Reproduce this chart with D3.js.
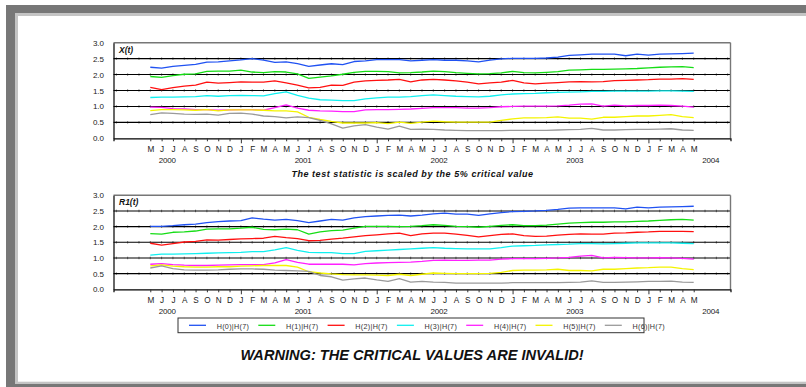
<!DOCTYPE html>
<html><head><meta charset="utf-8">
<script src="https://cdn.jsdelivr.net/npm/d3@7"></script>
<style>
html,body{margin:0;padding:0;background:#fff;}
svg{display:block;font-family:"Liberation Sans",Arial,sans-serif;}
</style></head>
<body>
<svg id="chart" width="806" height="387"></svg>
<script>
// ---------------- DATA ----------------
const monthLabels = ["M","J","J","A","S","O","N","D","J","F","M","A",
                     "M","J","J","A","S","O","N","D","J","F","M","A",
                     "M","J","J","A","S","O","N","D","J","F","M","A",
                     "M","J","J","A","S","O","N","D","J","F","M","A","M"];
const yearLabels = ["2000","2001","2002","2003","2004"];
const yTicks = [0,0.5,1,1.5,2,2.5,3];
const gridValues = [0.5,1,1.5,2,2.5];
const seriesNames = ["H(0)|H(7)","H(1)|H(7)","H(2)|H(7)","H(3)|H(7)","H(4)|H(7)","H(5)|H(7)","H(6)|H(7)"];
const seriesColors = ["#2052f2","#16dd16","#ff1010","#10f0f0","#ff20ff","#f4f400","#9a9a9a"];

const X0 = [2.23,2.20,2.26,2.29,2.32,2.39,2.40,2.43,2.46,2.50,2.45,2.38,2.40,2.34,2.26,2.30,2.34,2.31,2.41,2.43,2.47,2.47,2.47,2.43,
            2.45,2.47,2.45,2.45,2.43,2.40,2.45,2.49,2.51,2.51,2.51,2.52,2.55,2.60,2.62,2.64,2.64,2.64,2.59,2.64,2.61,2.64,2.65,2.66,2.67];
const X1 = [1.94,1.91,1.97,2.01,2.02,2.10,2.11,2.11,2.14,2.08,2.06,2.09,2.08,2.02,1.88,1.92,1.96,2.01,2.07,2.10,2.10,2.09,2.05,2.06,
            2.08,2.11,2.09,2.06,2.04,2.02,2.03,2.05,2.10,2.06,2.05,2.07,2.09,2.14,2.15,2.16,2.16,2.17,2.18,2.19,2.21,2.23,2.24,2.25,2.22];
const X2 = [1.60,1.53,1.59,1.64,1.67,1.76,1.73,1.75,1.77,1.76,1.76,1.80,1.74,1.67,1.58,1.60,1.67,1.66,1.76,1.80,1.82,1.83,1.85,1.77,
            1.83,1.85,1.83,1.80,1.76,1.71,1.74,1.76,1.82,1.74,1.71,1.73,1.75,1.77,1.78,1.77,1.78,1.81,1.82,1.83,1.84,1.86,1.86,1.87,1.85];
const X3 = [1.28,1.29,1.29,1.30,1.31,1.34,1.32,1.34,1.35,1.34,1.33,1.40,1.46,1.35,1.26,1.21,1.20,1.18,1.18,1.24,1.27,1.29,1.29,1.31,
            1.34,1.36,1.34,1.32,1.31,1.30,1.32,1.36,1.39,1.40,1.41,1.43,1.44,1.45,1.46,1.47,1.47,1.48,1.48,1.48,1.48,1.49,1.49,1.48,1.47];
const X4 = [0.98,0.97,0.93,0.92,0.90,0.90,0.88,0.89,0.90,0.90,0.88,0.96,1.05,0.95,0.88,0.86,0.85,0.84,0.84,0.89,0.90,0.90,0.91,0.92,
            0.94,0.96,0.96,0.96,0.95,0.95,0.96,0.99,1.00,1.01,1.01,1.01,1.02,1.04,1.07,1.08,1.01,1.04,1.02,1.03,1.03,1.04,1.03,1.01,0.98];
const X5 = [0.87,0.90,0.90,0.89,0.88,0.90,0.86,0.89,0.89,0.89,0.88,0.86,0.86,0.83,0.66,0.59,0.53,0.48,0.48,0.48,0.49,0.46,0.51,0.47,
            0.51,0.54,0.52,0.51,0.51,0.51,0.51,0.56,0.61,0.64,0.64,0.65,0.67,0.63,0.63,0.60,0.66,0.66,0.68,0.70,0.70,0.72,0.74,0.68,0.65];
const X6 = [0.74,0.80,0.78,0.76,0.75,0.76,0.73,0.78,0.79,0.76,0.70,0.68,0.64,0.67,0.65,0.56,0.45,0.32,0.39,0.43,0.35,0.29,0.38,0.28,
            0.29,0.28,0.26,0.25,0.24,0.24,0.24,0.24,0.25,0.25,0.25,0.25,0.26,0.27,0.28,0.31,0.26,0.26,0.27,0.28,0.28,0.29,0.30,0.26,0.25];

const R0 = [2.01,2.01,2.03,2.06,2.08,2.13,2.16,2.18,2.19,2.28,2.24,2.21,2.23,2.19,2.13,2.18,2.23,2.21,2.28,2.32,2.34,2.36,2.37,2.34,
            2.37,2.41,2.43,2.40,2.40,2.36,2.41,2.45,2.48,2.49,2.50,2.52,2.55,2.59,2.60,2.60,2.60,2.60,2.57,2.62,2.60,2.62,2.63,2.64,2.65];
const R1 = [1.78,1.76,1.82,1.83,1.86,1.92,1.93,1.93,1.95,1.98,1.91,1.90,1.92,1.90,1.76,1.83,1.87,1.89,1.95,2.01,2.01,2.01,2.00,2.01,
            2.03,2.06,2.04,2.01,2.00,1.98,2.01,2.04,2.06,2.03,2.03,2.05,2.08,2.11,2.13,2.14,2.14,2.15,2.15,2.17,2.18,2.20,2.22,2.23,2.21];
const R2 = [1.47,1.41,1.46,1.51,1.53,1.58,1.57,1.59,1.61,1.62,1.63,1.69,1.65,1.62,1.55,1.56,1.60,1.63,1.67,1.71,1.74,1.77,1.79,1.71,
            1.77,1.79,1.79,1.76,1.72,1.67,1.71,1.75,1.77,1.71,1.69,1.70,1.73,1.75,1.77,1.76,1.76,1.79,1.80,1.82,1.83,1.85,1.85,1.85,1.84];
const R3 = [1.09,1.12,1.12,1.13,1.14,1.15,1.16,1.17,1.18,1.20,1.20,1.26,1.33,1.24,1.18,1.17,1.17,1.14,1.14,1.21,1.23,1.25,1.27,1.29,
            1.31,1.33,1.31,1.30,1.29,1.29,1.29,1.33,1.38,1.39,1.40,1.42,1.43,1.44,1.46,1.46,1.45,1.46,1.47,1.48,1.48,1.48,1.48,1.47,1.46];
const R4 = [0.80,0.82,0.79,0.77,0.76,0.76,0.77,0.78,0.79,0.79,0.79,0.84,0.95,0.86,0.80,0.80,0.80,0.80,0.78,0.82,0.84,0.85,0.86,0.87,
            0.89,0.92,0.93,0.92,0.92,0.93,0.93,0.96,0.98,0.98,0.98,0.99,1.00,1.02,1.06,1.08,1.00,1.02,1.01,1.00,1.00,1.01,1.00,0.99,0.96];
const R5 = [0.75,0.78,0.74,0.72,0.71,0.71,0.72,0.72,0.74,0.75,0.76,0.76,0.76,0.71,0.56,0.52,0.49,0.47,0.46,0.46,0.45,0.44,0.48,0.44,
            0.48,0.52,0.51,0.50,0.50,0.50,0.51,0.54,0.60,0.61,0.61,0.62,0.64,0.60,0.60,0.59,0.64,0.64,0.66,0.68,0.69,0.71,0.71,0.66,0.63];
const R6 = [0.68,0.75,0.66,0.62,0.61,0.61,0.62,0.64,0.65,0.65,0.64,0.61,0.60,0.59,0.57,0.44,0.40,0.29,0.33,0.36,0.30,0.25,0.34,0.23,
            0.25,0.23,0.22,0.20,0.20,0.20,0.20,0.20,0.21,0.21,0.21,0.21,0.21,0.22,0.23,0.27,0.22,0.22,0.23,0.24,0.25,0.25,0.26,0.23,0.22];

const panelTitles = ["X(t)","R1(t)"];
const captionText = "The test statistic is scaled by the 5% critical value";
const warningText = "WARNING: THE CRITICAL VALUES ARE INVALID!";

// ---------------- LAYOUT ----------------
const svg = d3.select("#chart");
const W = 806, H = 387;
const FONT = '"Liberation Sans",Arial,sans-serif';

// outer frame (left/top/bottom bands)
svg.append("rect").attr("x",0).attr("y",0).attr("width",W).attr("height",H).attr("fill","#fff");
svg.append("rect").attr("x",6).attr("y",5).attr("width",W-6).attr("height",H-5).attr("fill","#777");
svg.append("rect").attr("x",15).attr("y",13).attr("width",W-15).attr("height",371).attr("fill","#c4c4c4");
svg.append("rect").attr("x",18).attr("y",16).attr("width",W-18).attr("height",365.7).attr("fill","#fff");

const left = 113.5, right = 730.5;
const x = d3.scaleLinear().domain([-3.25, 51.25]).range([left, right]);

const panels = [
  {top:42.7, bottom:138.3, data:[X0,X1,X2,X3,X4,X5,X6], title:panelTitles[0]},
  {top:195.3, bottom:289.3, data:[R0,R1,R2,R3,R4,R5,R6], title:panelTitles[1]}
];

const gridTickIdx = d3.range(-3, 52);

panels.forEach((p, pi) => {
  const y = d3.scaleLinear().domain([0,3]).range([p.bottom, p.top]);
  const g = svg.append("g");

  // gridlines with small month tick marks
  gridValues.forEach(v => {
    const gy = y(v);
    g.append("g").selectAll("line").data(gridTickIdx).join("line")
      .attr("x1", d => x(d)).attr("x2", d => x(d))
      .attr("y1", gy - 1.3).attr("y2", gy + 1.3)
      .attr("stroke", "#777").attr("stroke-width", 0.9);
    g.append("line").attr("x1", left).attr("x2", right)
      .attr("y1", gy).attr("y2", gy)
      .attr("stroke", "#000").attr("stroke-width", 1.1);
  });

  // series lines
  const line = d3.line().x((d,i) => x(i)).y(d => y(d));
  p.data.forEach((s, si) => {
    g.append("path").datum(s).attr("d", line)
      .attr("fill","none").attr("stroke", seriesColors[si])
      .attr("stroke-width", 1.3).attr("stroke-linejoin","round");
  });

  // frame
  g.append("line").attr("x1",left).attr("x2",right).attr("y1",p.top).attr("y2",p.top).attr("stroke","#777").attr("stroke-width",1.4);
  g.append("line").attr("x1",right).attr("x2",right).attr("y1",p.top).attr("y2",p.bottom).attr("stroke","#777").attr("stroke-width",1.4);

  // y axis
  const ya = g.append("g").attr("transform", `translate(${left},0)`)
    .call(d3.axisLeft(y).tickValues(yTicks).tickFormat(d3.format(".1f")).tickSize(0).tickPadding(9.5));
  ya.select(".domain").attr("stroke","#000").attr("stroke-width",1.2);
  ya.selectAll("text").attr("font-family",FONT).attr("font-size",8).attr("fill","#222");

  // x axis (months)
  const xa = g.append("g").attr("transform", `translate(0,${p.bottom})`)
    .call(d3.axisBottom(x).tickValues(d3.range(monthLabels.length)).tickFormat(i => monthLabels[i]).tickSize(3));
  xa.select(".domain").attr("stroke","#000").attr("stroke-width",1.2);
  xa.selectAll(".tick line").attr("stroke","#333")
    .attr("y2", (d) => monthLabels[d] === "J" && (d % 12) === 8 ? 5 : 3);
  xa.selectAll("text").attr("font-family",FONT).attr("font-size",8.2).attr("fill","#222")
    .attr("dy",0).attr("y",13.4);

  // year labels
  g.append("g").selectAll("text").data(yearLabels).join("text")
    .attr("x", (d,i) => x(1.5 + 12*i)).attr("y", p.bottom + 24.4)
    .attr("text-anchor","middle").attr("font-family",FONT).attr("font-size",8).attr("fill","#222")
    .attr("letter-spacing",-0.2)
    .text(d => d);

  // panel title
  g.append("text").attr("x", 119).attr("y", p.top + 9.8)
    .attr("font-family",FONT).attr("font-size",8.5).attr("font-weight","bold").attr("font-style","italic")
    .attr("fill","#111").text(p.title);
});

// caption
svg.append("text").attr("x",412.5).attr("y",176.8).attr("text-anchor","middle")
  .attr("font-family",FONT).attr("font-size",9).attr("font-weight","bold").attr("font-style","italic")
  .attr("letter-spacing",0.55).attr("fill","#111").text(captionText);

// legend
const legX = 178, legY = 318, legW = 466, legH = 14.7;
svg.append("rect").attr("x",legX).attr("y",legY).attr("width",legW).attr("height",legH)
  .attr("fill","#fff").attr("stroke","#333").attr("stroke-width",1);
const leg = svg.append("g").selectAll("g").data(seriesNames).join("g")
  .attr("transform",(d,i) => `translate(${189 + 69.3*i},${legY + 7.3})`);
leg.append("line").attr("x1",0).attr("x2",17).attr("y1",0).attr("y2",0)
  .attr("stroke",(d,i)=>seriesColors[i]).attr("stroke-width",1.3);
leg.append("text").attr("x",27.7).attr("y",4).attr("font-family",FONT).attr("font-size",7.2)
  .attr("fill","#333").attr("letter-spacing",0.3).text(d => d);

// warning
svg.append("text").attr("x",412).attr("y",360).attr("text-anchor","middle")
  .attr("font-family",FONT).attr("font-size",14.6).attr("font-weight","bold").attr("font-style","italic")
  .attr("fill","#111").text(warningText);
</script>
</body></html>
